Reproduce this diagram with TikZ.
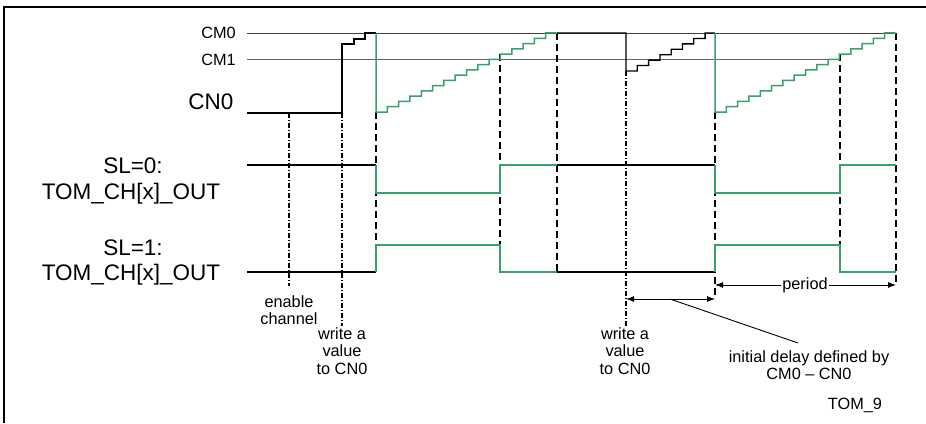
\documentclass[tikz,border=0pt]{standalone}
\usepackage{fontspec}
\setmainfont{Liberation Sans}
\usetikzlibrary{arrows.meta}
\definecolor{sg}{RGB}{58,160,108}
\begin{document}
\begin{tikzpicture}[x=1pt,y=-1pt,
 sig/.style={line width=1.3pt, black},
 gsig/.style={line width=1.5pt, sg},
 refl/.style={line width=1pt, black!75},
 vdash/.style={line width=1.1pt, dash pattern=on 7pt off 4pt},
 vdd/.style={line width=1.1pt, dash pattern=on 5pt off 2pt on 1pt off 2pt},
 small/.style={font=\fontsize{16.3}{17.8}\selectfont, align=center, inner sep=0pt},
 big/.style={font=\fontsize{22.5}{28}\selectfont, align=center, inner sep=0pt},
 dim/.style={line width=0.9pt, {Latex[length=8pt,width=6pt]}-{Latex[length=8pt,width=6pt]}}
]
\useasboundingbox (0,0) rectangle (926,423);
% frame
\draw[line width=1.5pt] (4,423) -- (4,7) -- (926,7);

% reference levels
\draw[refl] (247,33) -- (896,33);
\draw[black!60, line width=1pt] (247,59) -- (839,59);

% labels left
\node[small, anchor=east] (cm0) at (236,33) {CM0};
\node[small, anchor=east] (cm1) at (236,60) {CM1};
\node[big, anchor=base] (cn0) at (211,109) {CN0};
\node[big, anchor=base] (sl0) at (133,173) {SL=0:};
\node[big, anchor=base] (out0) at (131,199) {TOM\_CH[x]\_OUT};
\node[big, anchor=base] (sl1) at (133,255) {SL=1:};
\node[big, anchor=base] (out1) at (131,280) {TOM\_CH[x]\_OUT};

% vertical dash-dot markers
\draw[vdd] (289,113) -- (289,286);
\draw[vdd] (342,113) -- (342,326);
\draw[vdd] (626,71) -- (626,326);
% vertical dashed markers
\draw[vdash] (376,112) -- (376,272);
\draw[vdash] (500,54) -- (500,272);
\draw[vdash] (557,33) -- (557,272);
\draw[vdash] (715,112) -- (715,299);
\draw[vdash] (840,54) -- (840,272);
\draw[vdash] (896,33) -- (896,285);

% CN0 counter trace
\draw[sig] (247,113) -- (342,113) -- (342,44) -- (354,44) -- (354,39) -- (365,39) -- (365,33) -- (376,33);
\draw[gsig] (376,33) -- (376,112)
  foreach \k in {1,...,15} { -- ({376+\k*11.3125},{112-(\k-1)*5.267}) -- ({376+\k*11.3125},{112-\k*5.267}) } -- (557,33);
\draw[sig] (557,33) -- (626,33) -- (626,71)
  foreach \k in {1,...,7} { -- ({626+\k*11.3},{71-(\k-1)*5.43}) -- ({626+\k*11.3},{71-\k*5.43}) } -- (715,33);
\draw[gsig] (715,33) -- (715,112)
  foreach \k in {1,...,15} { -- ({715+\k*11.3125},{112-(\k-1)*5.267}) -- ({715+\k*11.3125},{112-\k*5.267}) } -- (896,33);

% SL=0 output
\draw[sig] (247,165) -- (376,165);
\draw[gsig] (376,165) -- (376,193) -- (500,193) -- (500,165) -- (557,165);
\draw[sig] (557,165) -- (715,165);
\draw[gsig] (715,165) -- (715,193) -- (840,193) -- (840,165) -- (896,165);
% SL=1 output
\draw[sig] (247,272) -- (376,272);
\draw[gsig] (376,272) -- (376,245) -- (500,245) -- (500,272) -- (557,272);
\draw[sig] (557,272) -- (715,272);
\draw[gsig] (715,272) -- (715,245) -- (840,245) -- (840,272) -- (896,272);

% bottom annotations
\node[small, anchor=north] (en) at (289,295) {enable\\channel};
\node[small, anchor=north] (wr1) at (342,327) {write a\\value\\to CN0};
\node[small, anchor=north] (wr2) at (625,327) {write a\\value\\to CN0};

\coordinate (dA) at (626,299);
\coordinate (dB) at (715,299);
\coordinate (dM) at (670,299);
\draw[dim] (dA) -- (dB);
\node[small, anchor=north] (idl) at (809,350) {initial delay defined by\\CM0 -- CN0};
\draw[line width=0.9pt] (dM) -- (798,343);

\coordinate (pA) at (715,285);
\coordinate (pB) at (896,285);
\draw[dim] (pA) -- (pB);
\node[small, fill=white, inner xsep=1pt, inner ysep=1pt] (per) at (805,285) {period};

\node[small, anchor=base] (tom9) at (855,409) {TOM\_9};
\end{tikzpicture}
\end{document}
